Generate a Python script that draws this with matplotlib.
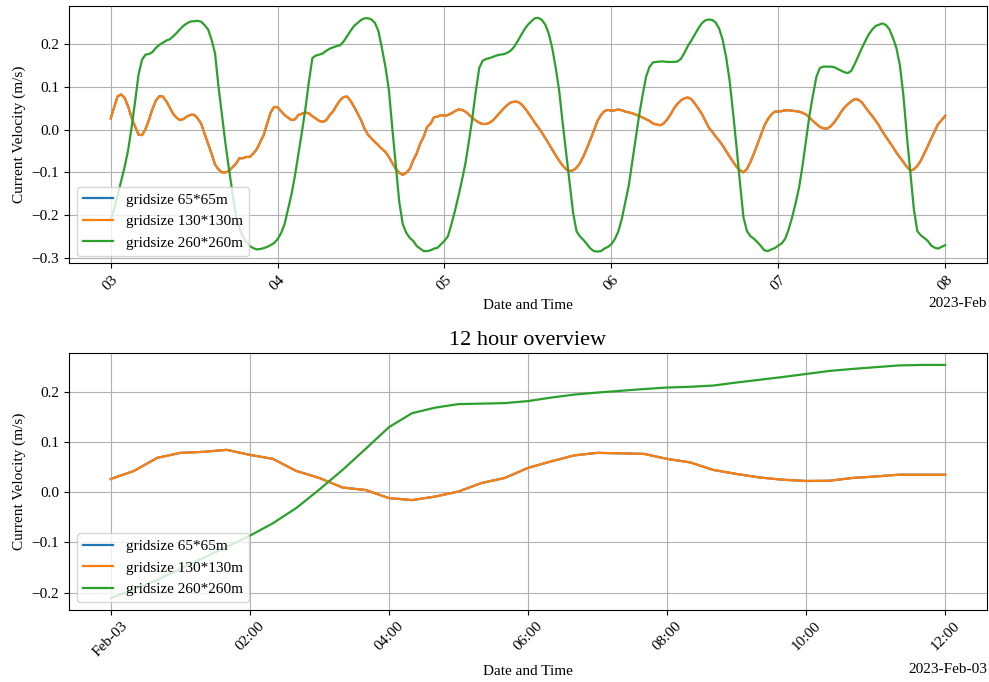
import matplotlib
matplotlib.use("Agg")
import matplotlib.pyplot as plt
import matplotlib.dates as mdates
import pandas as pd

plt.rcParams['font.family'] = ['Liberation Serif', 'DejaVu Serif']

labels = ['gridsize 65*65m', 'gridsize 130*130m', 'gridsize 260*260m']

# half-hourly velocities, 2023-02-03 00:00 .. 2023-02-08 00:00 (two rows per day)
v130_5d = [
    0.026, 0.053, 0.078, 0.082, 0.074, 0.054, 0.028, 0.007, -0.012, -0.013, 0.001, 0.023,
    0.048, 0.068, 0.078, 0.077, 0.066, 0.051, 0.036, 0.027, 0.022, 0.025, 0.031, 0.0345,
    0.0345, 0.026, 0.014, -0.010, -0.033, -0.056, -0.082, -0.093, -0.100, -0.100, -0.097, -0.088,
    -0.080, -0.067, -0.067, -0.064, -0.064, -0.056, -0.046, -0.029, -0.013, 0.014, 0.040, 0.053,
    # 04
    0.052, 0.043, 0.034, 0.028, 0.022, 0.024, 0.034, 0.037, 0.040, 0.038, 0.031, 0.026,
    0.020, 0.018, 0.022, 0.034, 0.043, 0.057, 0.069, 0.076, 0.077, 0.067, 0.053, 0.038,
    0.022, 0.002, -0.012, -0.021, -0.029, -0.037, -0.045, -0.052, -0.064, -0.078, -0.092, -0.101,
    -0.106, -0.101, -0.092, -0.072, -0.056, -0.033, -0.017, 0.006, 0.014, 0.029, 0.030, 0.034,
    # 05
    0.032, 0.034, 0.038, 0.043, 0.047, 0.046, 0.042, 0.035, 0.027, 0.021, 0.016, 0.013,
    0.013, 0.016, 0.022, 0.031, 0.040, 0.049, 0.057, 0.063, 0.065, 0.065, 0.060, 0.051,
    0.040, 0.028, 0.016, 0.005, -0.007, -0.020, -0.033, -0.047, -0.060, -0.073, -0.084, -0.093,
    -0.097, -0.095, -0.089, -0.078, -0.062, -0.043, -0.023, -0.002, 0.020, 0.034, 0.043, 0.046,
    # 06
    0.044, 0.045, 0.047, 0.045, 0.042, 0.040, 0.038, 0.035, 0.032, 0.028, 0.024, 0.020,
    0.014, 0.012, 0.010, 0.014, 0.023, 0.035, 0.049, 0.060, 0.068, 0.073, 0.075, 0.071,
    0.061, 0.049, 0.037, 0.021, 0.005, -0.005, -0.016, -0.026, -0.037, -0.050, -0.063, -0.075,
    -0.087, -0.095, -0.100, -0.092, -0.076, -0.056, -0.035, -0.013, 0.009, 0.024, 0.035, 0.042,
    # 07
    0.042, 0.043, 0.045, 0.045, 0.044, 0.043, 0.042, 0.039, 0.035, 0.028, 0.020, 0.013,
    0.006, 0.003, 0.002, 0.007, 0.016, 0.027, 0.040, 0.051, 0.059, 0.066, 0.071, 0.070,
    0.064, 0.053, 0.042, 0.032, 0.021, 0.009, -0.005, -0.017, -0.029, -0.041, -0.054, -0.065,
    -0.076, -0.087, -0.096, -0.093, -0.085, -0.073, -0.056, -0.039, -0.021, -0.004, 0.013, 0.022,
    # 08
    0.032,
]
v260_5d = [
    -0.211, -0.184, -0.153, -0.120, -0.087, -0.048, 0.005, 0.065, 0.129, 0.163, 0.175, 0.1765,
    0.181, 0.191, 0.198, 0.203, 0.208, 0.211, 0.218, 0.226, 0.235, 0.243, 0.2485, 0.2525,
    0.253, 0.254, 0.252, 0.244, 0.234, 0.210, 0.178, 0.100, 0.034, -0.033, -0.092, -0.147,
    -0.200, -0.230, -0.250, -0.262, -0.272, -0.277, -0.280, -0.279, -0.277, -0.274, -0.270, -0.265,
    # 04
    -0.256, -0.242, -0.221, -0.186, -0.151, -0.107, -0.056, -0.005, 0.049, 0.112, 0.167, 0.173,
    0.175, 0.178, 0.184, 0.189, 0.192, 0.195, 0.197, 0.206, 0.218, 0.231, 0.242, 0.249,
    0.256, 0.260, 0.260, 0.257, 0.249, 0.230, 0.190, 0.147, 0.093, 0.002, -0.084, -0.170,
    -0.221, -0.241, -0.253, -0.260, -0.272, -0.278, -0.284, -0.284, -0.282, -0.278, -0.276, -0.268,
    # 05
    -0.260, -0.249, -0.221, -0.190, -0.156, -0.119, -0.080, -0.029, 0.026, 0.089, 0.144, 0.161,
    0.165, 0.167, 0.170, 0.173, 0.175, 0.176, 0.179, 0.184, 0.193, 0.206, 0.220, 0.234,
    0.245, 0.253, 0.260, 0.261, 0.256, 0.245, 0.224, 0.190, 0.144, 0.090, 0.015, -0.055,
    -0.125, -0.195, -0.238, -0.250, -0.258, -0.268, -0.278, -0.284, -0.285, -0.284, -0.278, -0.274,
    # 06
    -0.268, -0.256, -0.238, -0.209, -0.170, -0.131, -0.076, -0.021, 0.034, 0.081, 0.124, 0.147,
    0.157, 0.158, 0.159, 0.159, 0.158, 0.158, 0.158, 0.159, 0.165, 0.179, 0.195, 0.208,
    0.222, 0.236, 0.248, 0.255, 0.257, 0.256, 0.250, 0.236, 0.210, 0.170, 0.115, 0.040,
    -0.040, -0.125, -0.205, -0.237, -0.249, -0.255, -0.263, -0.272, -0.282, -0.284, -0.280, -0.277,
    # 07
    -0.271, -0.266, -0.255, -0.233, -0.205, -0.172, -0.135, -0.084, -0.025, 0.034, 0.081, 0.124,
    0.144, 0.147, 0.147, 0.147, 0.146, 0.142, 0.138, 0.134, 0.132, 0.137, 0.153, 0.171,
    0.189, 0.206, 0.222, 0.233, 0.242, 0.245, 0.248, 0.244, 0.234, 0.214, 0.190, 0.150,
    0.080, -0.015, -0.100, -0.185, -0.237, -0.247, -0.253, -0.260, -0.271, -0.276, -0.278, -0.274,
    # 08
    -0.270,
]
# 65m run coincides with the 130m run
v65_5d = list(v130_5d)

# 20-minute velocities for the first 12 hours
v130_12h = [
    0.026, 0.042, 0.068, 0.078, 0.080, 0.084, 0.074, 0.066, 0.042, 0.028, 0.009, 0.004,
    -0.012, -0.016, -0.009, 0.001, 0.018, 0.028, 0.048, 0.061, 0.073, 0.078, 0.077, 0.076,
    0.066, 0.059, 0.044, 0.036, 0.029, 0.0245, 0.022, 0.0225, 0.028, 0.031, 0.0345, 0.0345,
    0.0345,
]
v260_12h = [
    -0.211, -0.194, -0.175, -0.153, -0.131, -0.109, -0.087, -0.062, -0.032, 0.005, 0.044, 0.086,
    0.129, 0.157, 0.168, 0.175, 0.176, 0.177, 0.181, 0.188, 0.194, 0.198, 0.2015, 0.205,
    0.208, 0.2095, 0.212, 0.218, 0.2235, 0.229, 0.235, 0.241, 0.245, 0.2485, 0.252, 0.253,
    0.253,
]
v65_12h = list(v130_12h)

t_5d = pd.date_range('2023-02-03', periods=len(v130_5d), freq='30min')
t_12h = pd.date_range('2023-02-03', periods=len(v130_12h), freq='20min')

fig = plt.figure(figsize=(9.89, 6.82), dpi=100)
ax1 = fig.add_axes([0.0698, 0.614, 0.928, 0.377])
ax2 = fig.add_axes([0.0698, 0.106, 0.928, 0.376])

for ax, t, series in [(ax1, t_5d, (v65_5d, v130_5d, v260_5d)),
                      (ax2, t_12h, (v65_12h, v130_12h, v260_12h))]:
    for vals, lab in zip(series, labels):
        ax.plot(t, vals, label=lab, linewidth=1.6)
    ax.grid(True)
    ax.set_xlabel('Date and Time', fontsize=11)
    ax.set_ylabel('Current Velocity (m/s)', fontsize=11)
    ax.tick_params(axis='x', labelrotation=45, labelsize=11)
    ax.tick_params(axis='y', labelsize=11)
    ax.legend(loc='lower left', fontsize=11)

loc1 = mdates.DayLocator()
ax1.xaxis.set_major_locator(loc1)
ax1.xaxis.set_major_formatter(mdates.ConciseDateFormatter(loc1))

loc2 = mdates.HourLocator(interval=2)
ax2.xaxis.set_major_locator(loc2)
ax2.xaxis.set_major_formatter(mdates.ConciseDateFormatter(loc2))
ax2.set_title('12 hour overview', fontsize=16)

for ax in (ax1, ax2):
    ax.xaxis.get_offset_text().set_fontsize(11)

fig.savefig('out.png', dpi=100)
